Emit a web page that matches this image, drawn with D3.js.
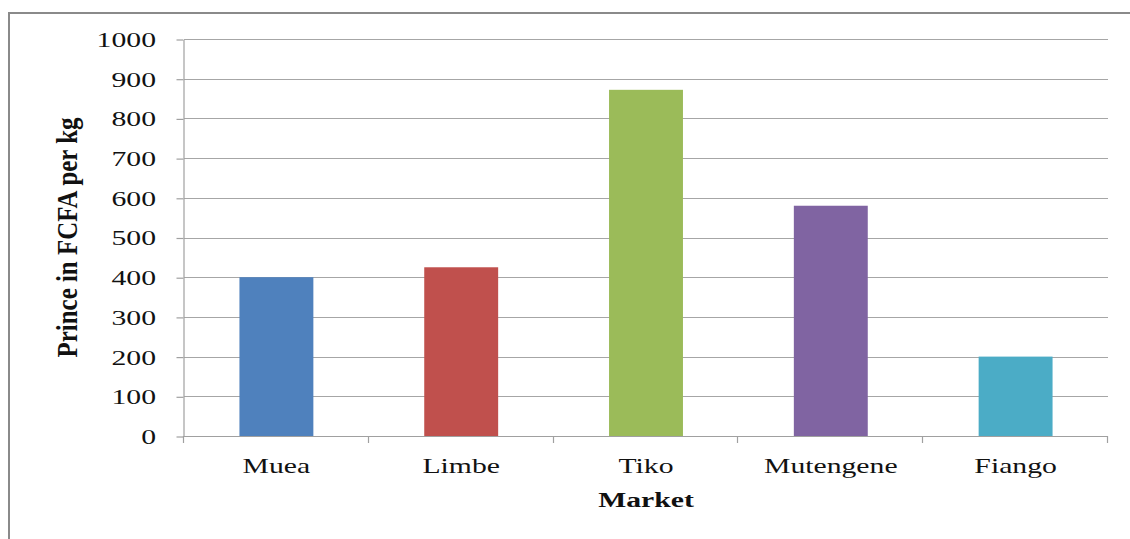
<!DOCTYPE html>
<html>
<head>
<meta charset="utf-8">
<script src="https://cdn.jsdelivr.net/npm/d3@7"></script>
<style>
  html, body { margin: 0; padding: 0; background: #fff; }
  svg { display: block; }
  text { font-family: "Liberation Serif", "Times New Roman", serif; fill: #111; }
</style>
</head>
<body>
<svg id="chart" width="1130" height="539"></svg>
<script>
// Average price per kg in each market
const markets = ["Muea", "Limbe", "Tiko", "Mutengene", "Fiango"];
const prices = [400, 425, 872, 580, 200];
const barColors = ["#4F81BD", "#C0504D", "#9BBB59", "#8064A2", "#4BACC6"];
const yTicks = [0, 100, 200, 300, 400, 500, 600, 700, 800, 900, 1000];
const xTitle = "Market";
const yTitle = "Prince in FCFA per kg";

const svg = d3.select("#chart");
const W = 1130, H = 539;
const plot = { left: 184, right: 1108, top: 39, bottom: 436 };
const stretch = 1.35; // wide lettering of the chart's text

const x = d3.scaleBand()
  .domain(markets)
  .range([plot.left, plot.right])
  .paddingInner(0.6)
  .paddingOuter(0.3);

const y = d3.scaleLinear()
  .domain([0, 1000])
  .range([plot.bottom, plot.top]);

// outer frame
svg.append("rect")
  .attr("x", 9).attr("y", 13)
  .attr("width", 1300).attr("height", 700)
  .attr("fill", "none")
  .attr("stroke", "#8a8a8a")
  .attr("stroke-width", 2);

// horizontal gridlines
svg.append("g")
  .selectAll("line")
  .data(yTicks)
  .join("line")
  .attr("x1", plot.left).attr("x2", plot.right)
  .attr("y1", d => Math.round(y(d)) + 0.5)
  .attr("y2", d => Math.round(y(d)) + 0.5)
  .attr("stroke", "#a6a6a6")
  .attr("stroke-width", 1.2);

// bars
svg.append("g")
  .selectAll("rect")
  .data(markets)
  .join("rect")
  .attr("x", d => x(d))
  .attr("y", (d, i) => y(prices[i]))
  .attr("width", x.bandwidth())
  .attr("height", (d, i) => y(0) - y(prices[i]))
  .attr("fill", (d, i) => barColors[i]);

// y axis (line and tick marks)
const yAxis = svg.append("g")
  .attr("transform", `translate(${plot.left - 0.5},0.5)`)
  .call(d3.axisLeft(y).tickValues(yTicks).tickSize(7).tickSizeOuter(0).tickFormat(""));
yAxis.selectAll("path, line").attr("stroke", "#a0a0a0").attr("stroke-width", 1.2);

// y tick labels
svg.append("g")
  .selectAll("text")
  .data(yTicks)
  .join("text")
  .attr("transform", d => `translate(156,${y(d)}) scale(${stretch},1)`)
  .attr("text-anchor", "end")
  .attr("dy", "0.36em")
  .attr("font-size", 22)
  .text(d => d);

// x axis baseline
svg.append("line")
  .attr("x1", plot.left - 1).attr("x2", plot.right)
  .attr("y1", y(0) + 0.5).attr("y2", y(0) + 0.5)
  .attr("stroke", "#a0a0a0").attr("stroke-width", 1.2);

// x tick marks at category boundaries
const boundaries = markets.map(m => x(m) - (x.step() - x.bandwidth()) / 2)
  .concat([plot.right]);
svg.append("g")
  .selectAll("line")
  .data(boundaries)
  .join("line")
  .attr("x1", d => Math.round(d) - 0.5).attr("x2", d => Math.round(d) - 0.5)
  .attr("y1", y(0)).attr("y2", y(0) + 7)
  .attr("stroke", "#a0a0a0").attr("stroke-width", 1.2);

// x category labels
svg.append("g")
  .selectAll("text")
  .data(markets)
  .join("text")
  .attr("transform", d => `translate(${x(d) + x.bandwidth() / 2},473) scale(${stretch},1)`)
  .attr("text-anchor", "middle")
  .attr("font-size", 22)
  .text(d => d);

// x axis title
svg.append("text")
  .attr("transform", `translate(${(plot.left + plot.right) / 2},507) scale(${stretch},1)`)
  .attr("text-anchor", "middle")
  .attr("font-size", 22)
  .attr("font-weight", "bold")
  .text(xTitle);

// y axis title
svg.append("text")
  .attr("transform", `translate(77,${(plot.top + plot.bottom) / 2}) scale(${stretch},1) rotate(-90)`)
  .attr("text-anchor", "middle")
  .attr("font-size", 22)
  .attr("font-weight", "bold")
  .attr("textLength", 240)
  .attr("lengthAdjust", "spacingAndGlyphs")
  .text(yTitle);
</script>
</body>
</html>
